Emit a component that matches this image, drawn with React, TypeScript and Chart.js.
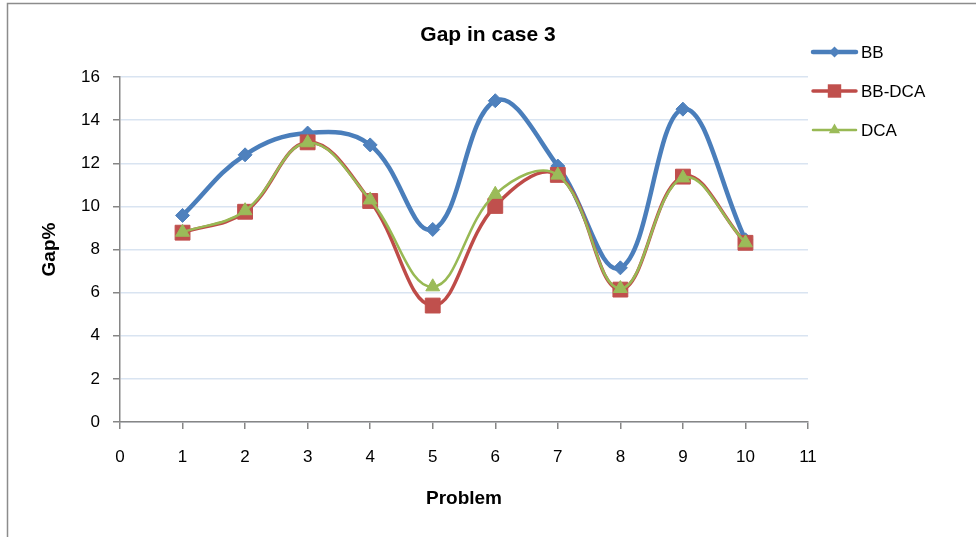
import React, { useEffect, useRef } from "react";
import { Chart, registerables } from "chart.js";

Chart.register(...registerables);

const problems = [1, 2, 3, 4, 5, 6, 7, 8, 9, 10];
const bbValues = [9.58, 12.39, 13.4, 12.85, 8.93, 14.9, 11.87, 7.15, 14.51, 8.45];
const bbDcaValues = [8.78, 9.75, 12.97, 10.25, 5.4, 10.02, 11.46, 6.14, 11.38, 8.31];
const dcaValues = [8.8, 9.8, 12.95, 10.3, 6.27, 10.56, 11.45, 6.19, 11.32, 8.31];
const seriesNames = ["BB", "BB-DCA", "DCA"];
const chartTitle = "Gap in case 3";
const xTitle = "Problem";
const yTitle = "Gap%";

const FONT = "'Liberation Sans', Arial, sans-serif";
const AXIS_GRAY = "#868686";

const toPoints = (vals: number[]) => problems.map((x, i) => ({ x, y: vals[i] }));

function drawMarker(ctx: CanvasRenderingContext2D, style: string, x: number, y: number, r: number, color: string) {
  ctx.save();
  ctx.fillStyle = color;
  ctx.beginPath();
  if (style === "rectRot") {
    ctx.moveTo(x, y - r);
    ctx.lineTo(x + r, y);
    ctx.lineTo(x, y + r);
    ctx.lineTo(x - r, y);
    ctx.closePath();
  } else if (style === "rect") {
    const s = r * Math.SQRT1_2;
    ctx.rect(x - s, y - s, 2 * s, 2 * s);
  } else {
    ctx.moveTo(x, y - r);
    ctx.lineTo(x + r * Math.sin((2 * Math.PI) / 3), y + r * 0.5);
    ctx.lineTo(x - r * Math.sin((2 * Math.PI) / 3), y + r * 0.5);
    ctx.closePath();
  }
  ctx.fill();
  ctx.restore();
}

const framePlugin = {
  id: "frameAndLegend",
  beforeDraw(chart: any) {
    const ctx = chart.ctx as CanvasRenderingContext2D;
    ctx.save();
    ctx.fillStyle = "#ffffff";
    ctx.fillRect(0, 0, chart.width, chart.height);
    ctx.strokeStyle = "#8c8c8c";
    ctx.lineWidth = 1.5;
    ctx.beginPath();
    ctx.moveTo(7.5, chart.height + 5);
    ctx.lineTo(7.5, 3.5);
    ctx.lineTo(chart.width + 5, 3.5);
    ctx.stroke();
    ctx.restore();
  },
  afterDraw(chart: any) {
    const ctx = chart.ctx as CanvasRenderingContext2D;
    const ds = chart.data.datasets;
    ctx.save();
    ds.forEach((d: any, i: number) => {
      const y = 52 + i * 39;
      ctx.strokeStyle = d.borderColor;
      ctx.lineWidth = d.borderWidth;
      ctx.lineCap = "round";
      ctx.beginPath();
      ctx.moveTo(813, y);
      ctx.lineTo(856, y);
      ctx.stroke();
      const legendR = d.pointStyle === "rect" ? 9.5 : d.pointStyle === "triangle" ? 6.5 : 5.5;
      drawMarker(ctx, d.pointStyle, 834.5, y, legendR, d.pointBackgroundColor);
      ctx.fillStyle = "#000000";
      ctx.font = `17px ${FONT}`;
      ctx.textBaseline = "middle";
      ctx.textAlign = "left";
      ctx.fillText(d.label, 861, y + 1);
    });
    ctx.restore();
  },
};

export default function App() {
  const canvasRef = useRef<HTMLCanvasElement | null>(null);

  useEffect(() => {
    if (!canvasRef.current) return;
    const chart = new Chart(canvasRef.current, {
      type: "line",
      data: {
        datasets: [
          {
            label: seriesNames[0],
            data: toPoints(bbValues),
            borderColor: "#4A7EBB",
            backgroundColor: "#4F81BD",
            pointBackgroundColor: "#4F81BD",
            pointBorderColor: "#4F81BD",
            borderWidth: 4.5,
            pointStyle: "rectRot",
            pointRadius: 7,
            pointBorderWidth: 1,
            tension: 0.4,
            order: 2,
          },
          {
            label: seriesNames[1],
            data: toPoints(bbDcaValues),
            borderColor: "#BE4B48",
            backgroundColor: "#C0504D",
            pointBackgroundColor: "#C0504D",
            pointBorderColor: "#C0504D",
            borderWidth: 3.5,
            pointStyle: "rect",
            pointRadius: 10.5,
            pointBorderWidth: 1,
            tension: 0.4,
            order: 1,
          },
          {
            label: seriesNames[2],
            data: toPoints(dcaValues),
            borderColor: "#98B954",
            backgroundColor: "#9BBB59",
            pointBackgroundColor: "#9BBB59",
            pointBorderColor: "#9BBB59",
            borderWidth: 2.5,
            pointStyle: "triangle",
            pointRadius: 8,
            pointBorderWidth: 1,
            tension: 0.4,
            order: 0,
          },
        ],
      } as any,
      options: {
        animation: false,
        responsive: false,
        devicePixelRatio: 1,
        layout: { padding: 0 },
        plugins: {
          legend: { display: false },
          tooltip: { enabled: false },
          title: {
            display: true,
            text: chartTitle,
            color: "#000000",
            font: { family: FONT, size: 21, weight: "bold" },
            padding: { top: 22.4, bottom: 29.4 },
          },
        },
        scales: {
          x: {
            type: "linear",
            position: "bottom",
            min: 0,
            max: 11,
            ticks: {
              stepSize: 1,
              color: "#000000",
              font: { family: FONT, size: 17 },
              padding: 18,
            },
            grid: {
              drawOnChartArea: false,
              drawTicks: true,
              tickLength: 7,
              tickColor: AXIS_GRAY,
              lineWidth: 1.5,
              color: AXIS_GRAY,
            },
            border: { display: true, color: AXIS_GRAY, width: 1.5 },
            title: {
              display: true,
              text: xTitle,
              color: "#000000",
              font: { family: FONT, size: 19, weight: "bold" },
              padding: { top: 0, bottom: 26.6 },
            },
            afterFit: (s: any) => {
              s.height = 115;
            },
          },
          y: {
            type: "linear",
            position: "left",
            min: 0,
            max: 16,
            ticks: {
              stepSize: 2,
              color: "#000000",
              font: { family: FONT, size: 17 },
              padding: 13,
            },
            grid: {
              color: "#D9E4F1",
              lineWidth: 1.5,
              tickLength: 7,
              tickColor: AXIS_GRAY,
            },
            border: { display: true, color: AXIS_GRAY, width: 1.5 },
            title: {
              display: true,
              text: yTitle,
              color: "#000000",
              font: { family: FONT, size: 19, weight: "bold" },
              padding: { top: 38.6, bottom: 0 },
            },
            afterFit: (s: any) => {
              s.width = 120;
            },
          },
          spacer: {
            type: "linear",
            position: "right",
            display: true,
            ticks: { display: false },
            grid: { display: false },
            border: { display: false },
            afterFit: (s: any) => {
              s.width = 168;
            },
          },
        },
      } as any,
      plugins: [framePlugin],
    });
    return () => chart.destroy();
  }, []);

  return (
    <div style={{ position: "absolute", left: 0, top: 0, width: 976, height: 537 }}>
      <canvas ref={canvasRef} width={976} height={537} style={{ width: 976, height: 537, display: "block" }} />
    </div>
  );
}
